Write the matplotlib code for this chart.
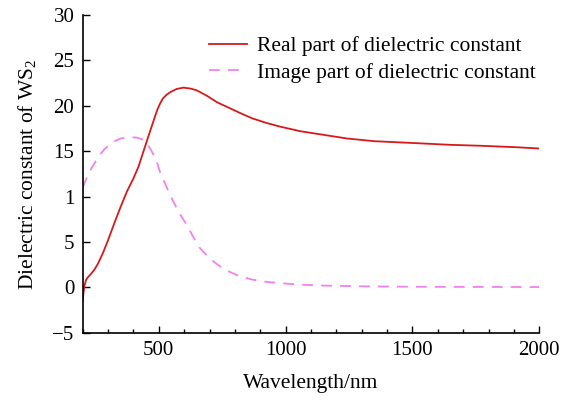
import matplotlib
matplotlib.use("Agg")
import matplotlib.pyplot as plt
from matplotlib.ticker import MultipleLocator, FixedLocator, FixedFormatter

# values
wl_real = [200, 203, 207, 213, 220, 230, 245, 260, 280, 300, 325, 350, 375, 400, 420,
           434, 455, 474, 486, 496, 506, 516, 530, 545, 570, 597, 625, 650, 690, 729, 775,
           821, 870, 926, 979, 1058, 1150, 1242, 1350, 1505, 1650, 1768, 1900, 2000]
eps_real = [-1.5, -0.6, 0.2, 0.8, 1.1, 1.4, 1.9, 2.6, 3.8, 5.2, 7.1, 8.9, 10.6, 12.0, 13.3,
            14.5, 16.3, 17.9, 18.9, 19.7, 20.3, 20.8, 21.2, 21.5, 21.85, 22.0, 21.9, 21.7,
            21.1, 20.4, 19.8, 19.2, 18.6, 18.1, 17.7, 17.2, 16.8, 16.4, 16.1, 15.9, 15.7,
            15.6, 15.45, 15.3]

wl_imag = [200, 215, 230, 245, 265, 285, 305, 325, 350, 380, 413, 435, 452, 470, 490, 505,
           530, 558, 585, 610, 635, 663, 700, 742, 780, 821, 870, 926, 1000, 1058, 1150,
           1300, 1500, 1750, 2000]
eps_imag = [11.0, 12.0, 12.9, 13.6, 14.5, 15.2, 15.7, 16.1, 16.4, 16.55, 16.5, 16.3, 15.9,
            15.1, 14.0, 12.7, 11.1, 9.4, 8.0, 6.9, 5.6, 4.3, 3.2, 2.3, 1.7, 1.2, 0.85, 0.6,
            0.42, 0.3, 0.2, 0.12, 0.07, 0.05, 0.04]

ytick_vals = [-5, 0, 5, 10, 15, 20, 25, 30]
ytick_labels = ["\u22125", "0", "5", "1", "15", "20", "25", "30"]

plt.rcParams.update({
    "font.family": ["Liberation Serif", "DejaVu Serif"],
    "font.size": 15,
    "mathtext.fontset": "custom",
    "mathtext.rm": "Liberation Serif",
    "mathtext.default": "regular",
})

fig = plt.figure(figsize=(5.61, 4.0), dpi=100)
ax = fig.add_axes([0.1474, 0.168, 0.8139, 0.7945])

ax.plot(wl_real, eps_real, color="#d7191c", lw=1.3,
        label="Real part of dielectric constant")
ax.plot(wl_imag, eps_imag, color="#ee82ee", lw=1.3, dashes=(6, 4.5),
        label="Image part of dielectric constant")

ax.set_xlim(200, 2000)
ax.set_ylim(-5, 30)
ax.xaxis.set_major_locator(FixedLocator([500, 1000, 1500, 2000]))
ax.xaxis.set_minor_locator(MultipleLocator(100))
ax.yaxis.set_major_locator(FixedLocator(ytick_vals))
ax.yaxis.set_major_formatter(FixedFormatter(ytick_labels))
ax.tick_params(which="major", direction="in", length=5, width=1)
ax.tick_params(which="minor", direction="in", length=3, width=1)
ax.tick_params(axis="x", pad=6)
ax.tick_params(axis="y", pad=6)

for s in ["top", "right"]:
    ax.spines[s].set_visible(False)
for s in ["left", "bottom"]:
    ax.spines[s].set_linewidth(1.2)

ax.set_xlabel("Wavelength/nm", fontsize=15.5, labelpad=10)
ax.set_ylabel("Dielectric constant of WS$_2$", fontsize=15.5, labelpad=10)

ax.legend(loc="upper right", frameon=False, fontsize=15.5, handlelength=1.75,
          borderaxespad=0.0, bbox_to_anchor=(1.012, 0.96), labelspacing=0.3,
          handletextpad=0.5)

fig.savefig("out.png", dpi=100)
